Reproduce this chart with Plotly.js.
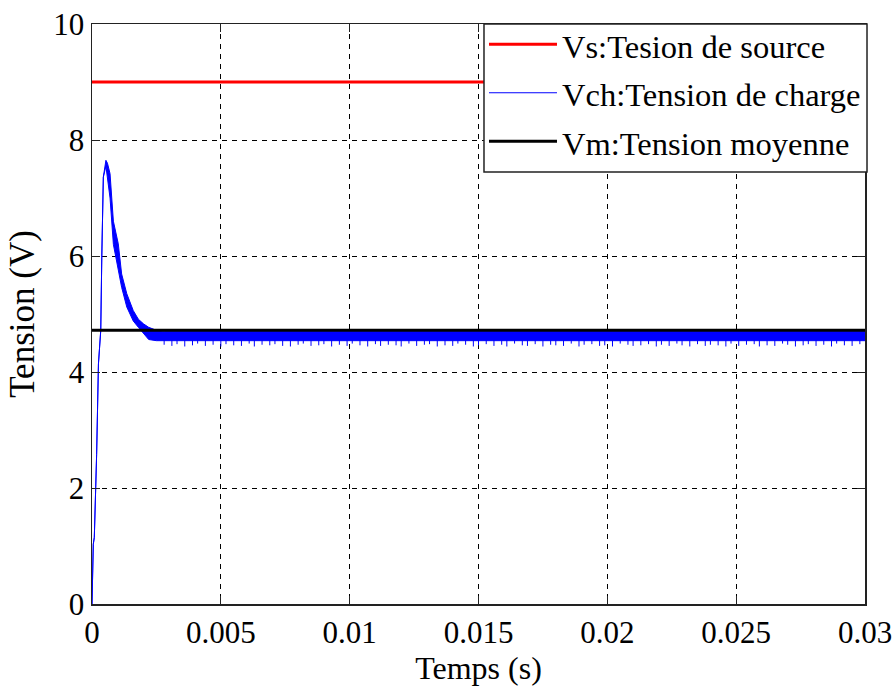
<!DOCTYPE html>
<html>
<head>
<meta charset="utf-8">
<script src="https://cdn.plot.ly/plotly-3.0.1.min.js"></script>
<style>html,body{margin:0;padding:0;background:#fff;}#chart{width:896px;height:691px;}</style>
</head>
<body>
<div id="chart"></div>
<script>
// Source voltage (constant)
const tSource = [0, 0.03];
const vSource = [9, 9];

// Mean voltage (constant)
const tMean = [0, 0.03];
const vMean = [4.72, 4.72];

// Load voltage envelope (upper / lower bounds of the switching ripple)
const tLoad = [0, 0.00005, 0.00009, 0.00012, 0.00018, 0.00025, 0.00034, 0.00038, 0.00044, 0.00054, 0.0006, 0.0007, 0.00083, 0.00102, 0.00115, 0.00135, 0.0016, 0.0018, 0.002, 0.0022, 0.0025, 0.0028, 0.03];
const vLoadUp = [0, 1.03, 1.15, 1.84, 2.58, 4.14, 4.72, 5.98, 7.36, 7.65, 7.6, 7.42, 6.6, 6.21, 5.69, 5.35, 5.06, 4.91, 4.83, 4.77, 4.72, 4.70, 4.70];
const vLoadLow = [0, 1.03, 1.15, 1.84, 2.58, 4.14, 4.72, 5.98, 7.36, 7.55, 7.3, 7.0, 6.2, 5.75, 5.46, 5.12, 4.88, 4.77, 4.66, 4.56, 4.54, 4.54, 4.54];

// Downward ripple spikes of the load voltage
const tSpike = [0.0028, 0.0031, 0.0033, 0.0036, 0.0039, 0.0041, 0.0044, 0.0047, 0.0050, 0.0052, 0.0055, 0.0058, 0.0061, 0.0063, 0.0066, 0.0069, 0.0071, 0.0074, 0.0077, 0.0080, 0.0082, 0.0085, 0.0088, 0.0090, 0.0093, 0.0096, 0.0099, 0.0101, 0.0104, 0.0107, 0.0110, 0.0112, 0.0115, 0.0118, 0.0120, 0.0123, 0.0126, 0.0129, 0.0131, 0.0134, 0.0137, 0.0140, 0.0142, 0.0145, 0.0148, 0.0150, 0.0153, 0.0156, 0.0159, 0.0161, 0.0164, 0.0167, 0.0169, 0.0172, 0.0175, 0.0178, 0.0180, 0.0183, 0.0186, 0.0189, 0.0191, 0.0194, 0.0197, 0.0199, 0.0202, 0.0205, 0.0208, 0.0210, 0.0213, 0.0216, 0.0219, 0.0221, 0.0224, 0.0227, 0.0229, 0.0232, 0.0235, 0.0238, 0.0240, 0.0243, 0.0246, 0.0248, 0.0251, 0.0254, 0.0257, 0.0259, 0.0262, 0.0265, 0.0268, 0.0270, 0.0273, 0.0276, 0.0278, 0.0281, 0.0284, 0.0287, 0.0289, 0.0292, 0.0295, 0.0298];
const vSpike = [4.47, 4.45, 4.48, 4.44, 4.46, 4.49, 4.45, 4.47, 4.44, 4.48, 4.46, 4.45, 4.49, 4.44, 4.47, 4.46, 4.48, 4.45, 4.44, 4.47, 4.49, 4.45, 4.46, 4.48, 4.44, 4.47, 4.45, 4.49, 4.46, 4.44, 4.48, 4.45, 4.47, 4.46, 4.44, 4.49, 4.45, 4.47, 4.48, 4.44, 4.46, 4.45, 4.49, 4.47, 4.44, 4.46, 4.48, 4.45, 4.47, 4.44, 4.49, 4.46, 4.45, 4.48, 4.44, 4.47, 4.46, 4.45, 4.49, 4.44, 4.47, 4.48, 4.45, 4.46, 4.44, 4.49, 4.47, 4.45, 4.46, 4.48, 4.44, 4.47, 4.45, 4.49, 4.46, 4.44, 4.48, 4.45, 4.47, 4.46, 4.44, 4.49, 4.45, 4.47, 4.48, 4.44, 4.46, 4.45, 4.49, 4.47, 4.44, 4.46, 4.48, 4.45, 4.47, 4.44, 4.49, 4.46, 4.45, 4.48];
const spikeTop = 4.56;

// Axis ticks
const xTickVals = [0, 0.005, 0.01, 0.015, 0.02, 0.025, 0.03];
const xTickText = ["0", "0.005", "0.01", "0.015", "0.02", "0.025", "0.03"];
const yTickVals = [0, 2, 4, 6, 8, 10];
const yTickText = ["0", "2", "4", "6", "8", "10"];

// Series names
const nameSource = 'Vs:Tesion de source';
const nameLoad = 'Vch:Tension de charge';
const nameMean = 'Vm:Tension moyenne';

// Build spike segments (separated by nulls)
const spX = [], spY = [];
tSpike.forEach((t, i) => { spX.push(t, t, null); spY.push(spikeTop, vSpike[i], null); });

const FONT = '"Liberation Serif", "Times New Roman", serif';
const lg = s => '<span style="font-size:32.5px">' + s + '</span>';

const traces = [
  {x: tSource, y: vSource, type: 'scatter', mode: 'lines', name: lg(nameSource),
   line: {color: '#ff0000', width: 3}, legendrank: 1},
  {x: tLoad, y: vLoadUp, type: 'scatter', mode: 'lines', name: lg(nameLoad),
   line: {color: '#0000ff', width: 1}, legendrank: 2},
  {x: tLoad, y: vLoadLow, type: 'scatter', mode: 'lines', fill: 'tonexty', fillcolor: '#0000ff',
   line: {color: '#0000ff', width: 1}, showlegend: false},
  {x: spX, y: spY, type: 'scatter', mode: 'lines', line: {color: '#0000ff', width: 1},
   showlegend: false, connectgaps: false},
  {x: tMean, y: vMean, type: 'scatter', mode: 'lines', name: lg(nameMean),
   line: {color: '#000000', width: 3}, legendrank: 3}
];

const axisCommon = {
  showline: true, linecolor: '#222', linewidth: 1.5, mirror: 'allticks',
  ticks: 'inside', ticklen: 8, tickcolor: '#222', tickwidth: 1,
  showgrid: true, gridcolor: '#000', gridwidth: 1, griddash: '5px,5px',
  zeroline: false, tickfont: {family: FONT, size: 31, color: '#000'}
};

const layout = {
  width: 896, height: 691,
  paper_bgcolor: '#fff', plot_bgcolor: '#fff',
  margin: {l: 92, r: 31, t: 24, b: 87},
  showlegend: true,
  font: {family: FONT, color: '#000'},
  xaxis: Object.assign({}, axisCommon, {
    range: [0, 0.03], tickvals: xTickVals, ticktext: xTickText,
    title: {text: 'Temps (s)', font: {family: FONT, size: 32, color: '#000'}, standoff: 4}
  }),
  yaxis: Object.assign({}, axisCommon, {
    range: [0, 10], tickvals: yTickVals, ticktext: yTickText,
    title: {text: 'Tension (V)', font: {family: FONT, size: 35, color: '#000'}, standoff: 8}
  }),
  shapes: [{
    type: 'rect', xref: 'paper', yref: 'paper', layer: 'above',
    x0: 0.5071, x1: 1.0026, y0: 0.7448, y1: 1,
    fillcolor: '#fff', line: {color: '#222', width: 1.5}
  }],
  legend: {
    x: 0.5071, xanchor: 'left', y: 1.0155, yanchor: 'top',
    bgcolor: 'rgba(0,0,0,0)', borderwidth: 0,
    font: {family: FONT, size: 35, color: '#000'},
    itemwidth: 68, tracegroupgap: 0, traceorder: 'normal'
  }
};

Plotly.newPlot('chart', traces, layout, {displayModeBar: false, staticPlot: true});
</script>
</body>
</html>
